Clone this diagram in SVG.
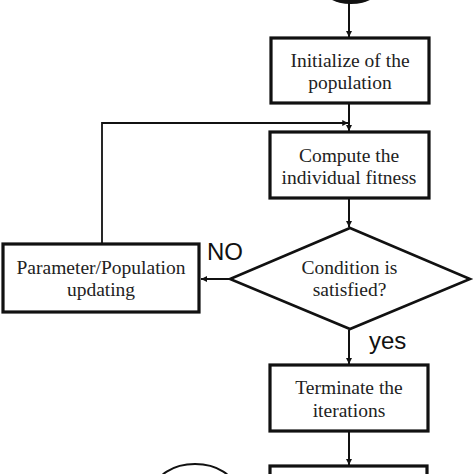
<svg xmlns="http://www.w3.org/2000/svg" width="474" height="474" viewBox="0 0 474 474">
<style>
.box{fill:#fff;stroke:#111;stroke-width:3.2}
.dia{fill:#fff;stroke:#111;stroke-width:2.6}
.t{font-family:"Liberation Serif","Times New Roman",serif;font-size:19.5px;fill:#222;text-anchor:middle}
.s{font-family:"Liberation Sans",Arial,sans-serif;font-size:24px;fill:#111}
.c{fill:none;stroke:#111;stroke-width:2}
</style>
<defs>
<marker id="ah" viewBox="0 0 10 10" refX="10" refY="5" markerWidth="3.2" markerHeight="3.2" orient="auto" markerUnits="strokeWidth">
<path d="M0,0 L10,5 L0,10 z" fill="#111"/>
</marker>
</defs>
<rect width="474" height="474" fill="#fff"/>
<g id="connectors">
<line class="c" x1="349" y1="2" x2="349" y2="37" marker-end="url(#ah)"/>
<line class="c" x1="349" y1="104" x2="349" y2="131" marker-end="url(#ah)"/>
<polyline class="c" style="stroke-width:1.8" points="102,245 102,123 348,123" marker-end="url(#ah)"/>
<line class="c" x1="349" y1="199" x2="349" y2="227" marker-end="url(#ah)"/>
<line class="c" x1="230" y1="279" x2="201" y2="279" marker-end="url(#ah)"/>
<line class="c" x1="349" y1="330" x2="349" y2="364" marker-end="url(#ah)"/>
<line class="c" x1="349" y1="432" x2="349" y2="465" marker-end="url(#ah)"/>
<text class="s" x="207" y="260">NO</text>
<text class="s" x="369" y="349">yes</text>
</g>
<g id="start">
<ellipse cx="351" cy="-14" rx="30" ry="18" fill="#111"/>
</g>
<g id="init">
<rect class="box" x="271" y="38" width="158" height="65"/>
<text class="t" x="350" y="67">Initialize of the</text>
<text class="t" x="350" y="89">population</text>
</g>
<g id="fitness">
<rect class="box" x="270" y="132" width="159" height="66"/>
<text class="t" x="349" y="162">Compute the</text>
<text class="t" x="349" y="184">individual fitness</text>
</g>
<g id="condition">
<polygon class="dia" points="350,228 470,279 350,329 230,279"/>
<text class="t" x="349.5" y="274">Condition is</text>
<text class="t" x="349.5" y="296">satisfied?</text>
</g>
<g id="update">
<rect class="box" x="3" y="244" width="196" height="68"/>
<text class="t" x="101" y="274">Parameter/Population</text>
<text class="t" x="101" y="296">updating</text>
</g>
<g id="terminate">
<rect class="box" x="270" y="365" width="158" height="66"/>
<text class="t" x="349" y="394">Terminate the</text>
<text class="t" x="349" y="417">iterations</text>
</g>
<g id="output">
<rect class="box" x="270" y="466" width="157" height="30"/>
</g>
<g id="end">
<ellipse cx="195" cy="490" rx="40" ry="26" fill="#fff" stroke="#111" stroke-width="2"/>
</g>
</svg>
